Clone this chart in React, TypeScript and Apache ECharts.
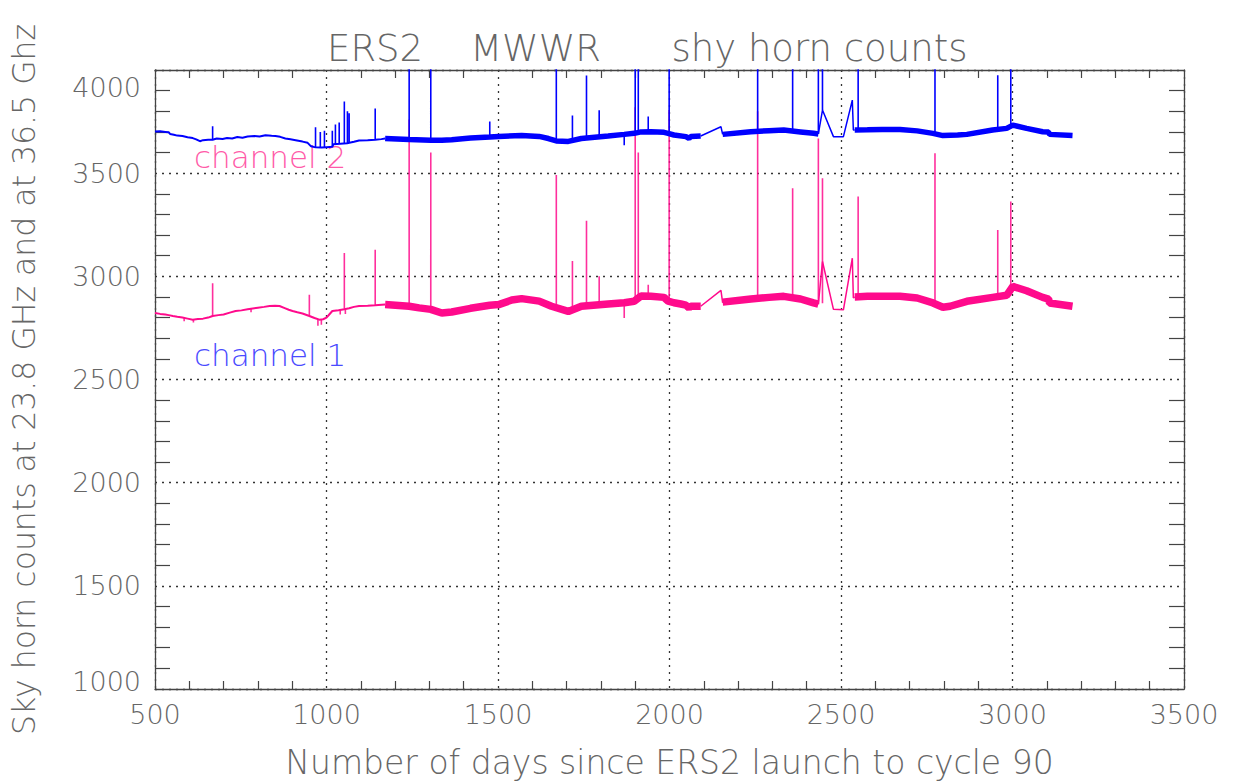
import React, { useEffect, useRef } from "react";
import * as echarts from "echarts";

// ---- data ----
const xTicks = [500, 1000, 1500, 2000, 2500, 3000, 3500];
const yTicks = [1000, 1500, 2000, 2500, 3000, 3500, 4000];

// channel 2 (36.5 GHz, blue)
const ch2Early = [
  [500, 3702], [515, 3703], [530, 3700], [540, 3698], [544, 3690], [555, 3686], [565, 3682], [580, 3680],
  [595, 3674], [610, 3670], [620, 3664], [631, 3655], [640, 3660], [655, 3662], [668, 3662], [680, 3668],
  [697, 3666], [710, 3670], [725, 3668], [740, 3675], [755, 3672], [770, 3678], [790, 3680], [805, 3678],
  [822, 3684], [840, 3681], [851, 3680], [865, 3676], [880, 3668], [895, 3664], [910, 3660], [930, 3653],
  [945, 3647], [955, 3630], [968, 3625], [985, 3624], [1000, 3626], [1017, 3628], [1020, 3640], [1040, 3642],
  [1060, 3645], [1080, 3652], [1095, 3658], [1120, 3660], [1142, 3662], [1160, 3665], [1171, 3668],
];
const ch2Band = [
  [1171, 3668], [1241, 3663], [1304, 3660], [1336, 3660], [1365, 3662], [1420, 3670], [1476, 3675], [1502, 3678],
  [1569, 3683], [1620, 3678], [1647, 3668], [1670, 3656], [1705, 3654], [1743, 3668], [1821, 3680], [1868, 3688],
  [1897, 3693], [1917, 3700], [1946, 3701], [1984, 3698], [1996, 3693], [2013, 3685], [2048, 3677], [2057, 3668],
  [2062, 3678], [2091, 3680], null,
  [2155, 3688], [2237, 3701], [2290, 3706], [2333, 3709], [2382, 3700], [2420, 3693], [2434, 3690], null,
  [2540, 3709], [2577, 3710], [2620, 3712], [2672, 3712], [2722, 3705], [2768, 3693], [2797, 3682], [2840, 3685],
  [2867, 3688], [2942, 3709], [2983, 3717], [3001, 3733], [3041, 3717], [3088, 3701], [3105, 3699], [3108, 3688],
  [3175, 3682],
];
const ch2Links = [
  [2091, 3680], [2150, 3725], [2155, 3688], null,
  [2434, 3690], [2446, 3806], [2478, 3677], [2507, 3677], [2533, 3854], [2536, 3709], [2540, 3709],
];
// [day, base, peak]
const ch2Spikes = [
  [668, 3662, 3727], [968, 3625, 3722], [982, 3624, 3700], [994, 3625, 3705], [1017, 3628, 3705],
  [1026, 3640, 3736], [1037, 3641, 3745], [1052, 3643, 3847], [1061, 3645, 3800], [1066, 3646, 3790],
  [1142, 3662, 3814], [1241, 3663, 4100], [1304, 3660, 4100], [1476, 3675, 3750], [1670, 3656, 4100],
  [1717, 3660, 3780], [1758, 3665, 3973], [1795, 3675, 3805], [1868, 3688, 3635], [1900, 3693, 4100],
  [1909, 3698, 4100], [1938, 3700, 3775], [1999, 3693, 4100], [2257, 3701, 4100], [2359, 3708, 4100],
  [2434, 3690, 4100], [2446, 3806, 4100], [2550, 3709, 4100], [2774, 3690, 4100], [2957, 3712, 3975],
  [2995, 3720, 4100],
];

// channel 1 (23.8 GHz, pink)
const ch1Early = [
  [500, 2822], [515, 2818], [530, 2815], [540, 2812], [552, 2808], [565, 2804], [580, 2800], [595, 2795],
  [610, 2790], [625, 2793], [640, 2795], [655, 2800], [668, 2808], [685, 2812], [700, 2815], [718, 2824],
  [735, 2832], [752, 2835], [770, 2840], [785, 2844], [800, 2848], [818, 2852], [834, 2856], [850, 2857],
  [863, 2856], [880, 2845], [890, 2838], [901, 2832], [915, 2826], [930, 2820], [950, 2808], [965, 2798],
  [979, 2790], [990, 2792], [1000, 2800], [1008, 2815], [1017, 2832], [1035, 2836], [1052, 2840], [1066, 2845],
  [1080, 2852], [1095, 2856], [1120, 2858], [1142, 2860], [1171, 2863],
];
const ch1Band = [
  [1171, 2863], [1241, 2855], [1270, 2847], [1304, 2840], [1336, 2822], [1365, 2827], [1420, 2845], [1476, 2860],
  [1502, 2863], [1540, 2885], [1569, 2892], [1620, 2880], [1656, 2855], [1705, 2830], [1743, 2855], [1821, 2866],
  [1868, 2872], [1897, 2879], [1917, 2905], [1946, 2903], [1984, 2898], [1996, 2880], [2013, 2872], [2033, 2866],
  [2048, 2860], [2057, 2847], [2062, 2855], [2091, 2855], null,
  [2155, 2875], [2237, 2890], [2290, 2898], [2333, 2903], [2382, 2890], [2420, 2871], [2434, 2865], null,
  [2540, 2900], [2577, 2903], [2672, 2903], [2722, 2895], [2768, 2871], [2797, 2850], [2818, 2855], [2867, 2879],
  [2942, 2898], [2983, 2908], [3001, 2951], [3041, 2930], [3088, 2898], [3105, 2890], [3108, 2871], [3175, 2855],
];
const ch1Links = [
  [2091, 2855], [2150, 2932], [2155, 2871], null,
  [2434, 2865], [2446, 3072], [2478, 2840], [2507, 2838], [2533, 3088], [2536, 2895], [2540, 2900],
];
const ch1Spikes = [
  [585, 2798, 2782], [612, 2790, 2776], [668, 2808, 2967], [780, 2843, 2826], [950, 2808, 2911],
  [975, 2792, 2760], [985, 2790, 2765], [1040, 2837, 2815], [1052, 2840, 3113], [1055, 2841, 2818],
  [1142, 2860, 3129], [1241, 2855, 3760], [1304, 2840, 3600], [1670, 2856, 3491], [1717, 2840, 3074],
  [1758, 2850, 3269], [1795, 2862, 3001], [1868, 2872, 2798], [1900, 2872, 3820], [1909, 2890, 3600],
  [1938, 2903, 2959], [1999, 2880, 3806], [2257, 2890, 3800], [2359, 2900, 3427], [2434, 2865, 3668],
  [2446, 2870, 3475], [2550, 2902, 3387], [2774, 2870, 3596], [2957, 2900, 3225], [2995, 2908, 3363],
];

const BLUE = "#0000ff";
const PINK = "#ff0a8c";
const TEXT = "#666666";
const FONT = "DejaVu Sans";
const WEIGHT = 200;

const withBreaks = (arr: any[]) => arr.map((p) => (p === null ? ["-", "-"] : p));
const spikeData = (arr: number[][]) =>
  arr.flatMap(([d, b, p]) => [[d, b], [d, p], ["-", "-"]]);

export default function App() {
  const ref = useRef<HTMLDivElement>(null);
  useEffect(() => {
    document.body.style.margin = "0";
    const chart = echarts.init(ref.current!, null, { renderer: "svg" });
    const gridLine = { show: true, lineStyle: { color: "#333", type: [2, 5], width: 1.3 } };
    const axisLine = { show: true, lineStyle: { color: "#444", width: 1.3 } };
    const tickText = { fontFamily: FONT, fontSize: 27, fontWeight: WEIGHT, color: TEXT };
    const option: any = {
      animation: false,
      backgroundColor: "#ffffff",
      title: {
        text: "ERS2    MWWR      shy horn counts",
        left: 322,
        top: 25,
        textStyle: { fontFamily: FONT, fontSize: 37, fontWeight: WEIGHT, color: TEXT },
      },
      grid: { left: 152, right: 50, top: 70, bottom: 91 },
      xAxis: [
        {
          type: "value",
          min: xTicks[0],
          max: xTicks[xTicks.length - 1],
          interval: 500,
          name: "Number of days since ERS2 launch to cycle 90",
          nameLocation: "middle",
          nameGap: 57,
          nameTextStyle: { fontFamily: FONT, fontSize: 33, fontWeight: WEIGHT, color: TEXT },
          axisLine,
          axisTick: { show: false, inside: true },
          minorTick: { show: true, splitNumber: 5, length: 8, lineStyle: { color: "#444", width: 1.2 } },
          splitLine: gridLine,
          axisLabel: { ...tickText, margin: 12, showMinLabel: true, showMaxLabel: true, formatter: (v: number) => String(v) },
        },
        {
          type: "value",
          position: "top",
          min: xTicks[0],
          max: xTicks[xTicks.length - 1],
          interval: 500,
          axisLine,
          axisTick: { show: false, inside: true },
          minorTick: { show: true, splitNumber: 5, length: 8, lineStyle: { color: "#444", width: 1.2 } },
          splitLine: { show: false },
          axisLabel: { show: false },
        },
      ],
      yAxis: [
        {
          type: "value",
          min: yTicks[0],
          max: yTicks[yTicks.length - 1],
          interval: 500,
          name: "Sky horn counts at 23.8 GHz and at 36.5 Ghz",
          nameLocation: "middle",
          nameGap: 115,
          nameTextStyle: { fontFamily: FONT, fontSize: 31.5, fontWeight: WEIGHT, color: TEXT },
          axisLine,
          axisTick: { show: false, inside: true },
          minorTick: { show: true, splitNumber: 5, length: 15, lineStyle: { color: "#444", width: 1.2 } },
          splitLine: gridLine,
          axisLabel: {
            ...tickText,
            margin: 14,
            showMinLabel: true,
            showMaxLabel: true,
            formatter: (v: number) =>
              v === yTicks[yTicks.length - 1] ? "{t|" + v + "}" : v === yTicks[0] ? "{b|" + v + "}" : String(v),
            rich: {
              t: { ...tickText, padding: [34, 0, 0, 0] },
              b: { ...tickText, padding: [0, 0, 16, 0] },
            },
          },
        },
        {
          type: "value",
          position: "right",
          min: yTicks[0],
          max: yTicks[yTicks.length - 1],
          interval: 500,
          axisLine,
          axisTick: { show: false, inside: true },
          minorTick: { show: true, splitNumber: 5, length: 15, lineStyle: { color: "#444", width: 1.2 } },
          splitLine: { show: false },
          axisLabel: { show: false },
        },
      ],
      graphic: [
        {
          type: "text",
          left: 194,
          top: 141,
          style: { text: "channel 2", fontFamily: FONT, fontSize: 31, fontWeight: WEIGHT, fill: "#ff5aa8" },
        },
        {
          type: "text",
          left: 194,
          top: 339,
          style: { text: "channel 1", fontFamily: FONT, fontSize: 31, fontWeight: WEIGHT, fill: "#4a4aff" },
        },
      ],
      series: [
        { name: "ch1 early", type: "line", data: ch1Early, showSymbol: false, symbol: "none", lineStyle: { color: PINK, width: 2 }, z: 3 },
        { name: "ch1 band", type: "line", data: withBreaks(ch1Band), showSymbol: false, symbol: "none", connectNulls: false, lineStyle: { color: PINK, width: 7.5 }, z: 2 },
        { name: "ch1 links", type: "line", data: withBreaks(ch1Links), showSymbol: false, symbol: "none", connectNulls: false, lineStyle: { color: PINK, width: 1.5 }, z: 3 },
        { name: "ch1 spikes", type: "line", data: spikeData(ch1Spikes), showSymbol: false, symbol: "none", connectNulls: false, lineStyle: { color: PINK, width: 1.6, opacity: 0.85 }, z: 3 },
        { name: "ch2 early", type: "line", data: ch2Early, showSymbol: false, symbol: "none", lineStyle: { color: BLUE, width: 2 }, z: 5 },
        { name: "ch2 band", type: "line", data: withBreaks(ch2Band), showSymbol: false, symbol: "none", connectNulls: false, lineStyle: { color: BLUE, width: 5.5 }, z: 4 },
        { name: "ch2 links", type: "line", data: withBreaks(ch2Links), showSymbol: false, symbol: "none", connectNulls: false, lineStyle: { color: BLUE, width: 1.5 }, z: 5 },
        { name: "ch2 spikes", type: "line", data: spikeData(ch2Spikes), showSymbol: false, symbol: "none", connectNulls: false, lineStyle: { color: BLUE, width: 1.6 }, z: 5 },
      ],
    };
    chart.setOption(option);
    return () => chart.dispose();
  }, []);
  return <div ref={ref} style={{ width: 1234, height: 784 }} />;
}
